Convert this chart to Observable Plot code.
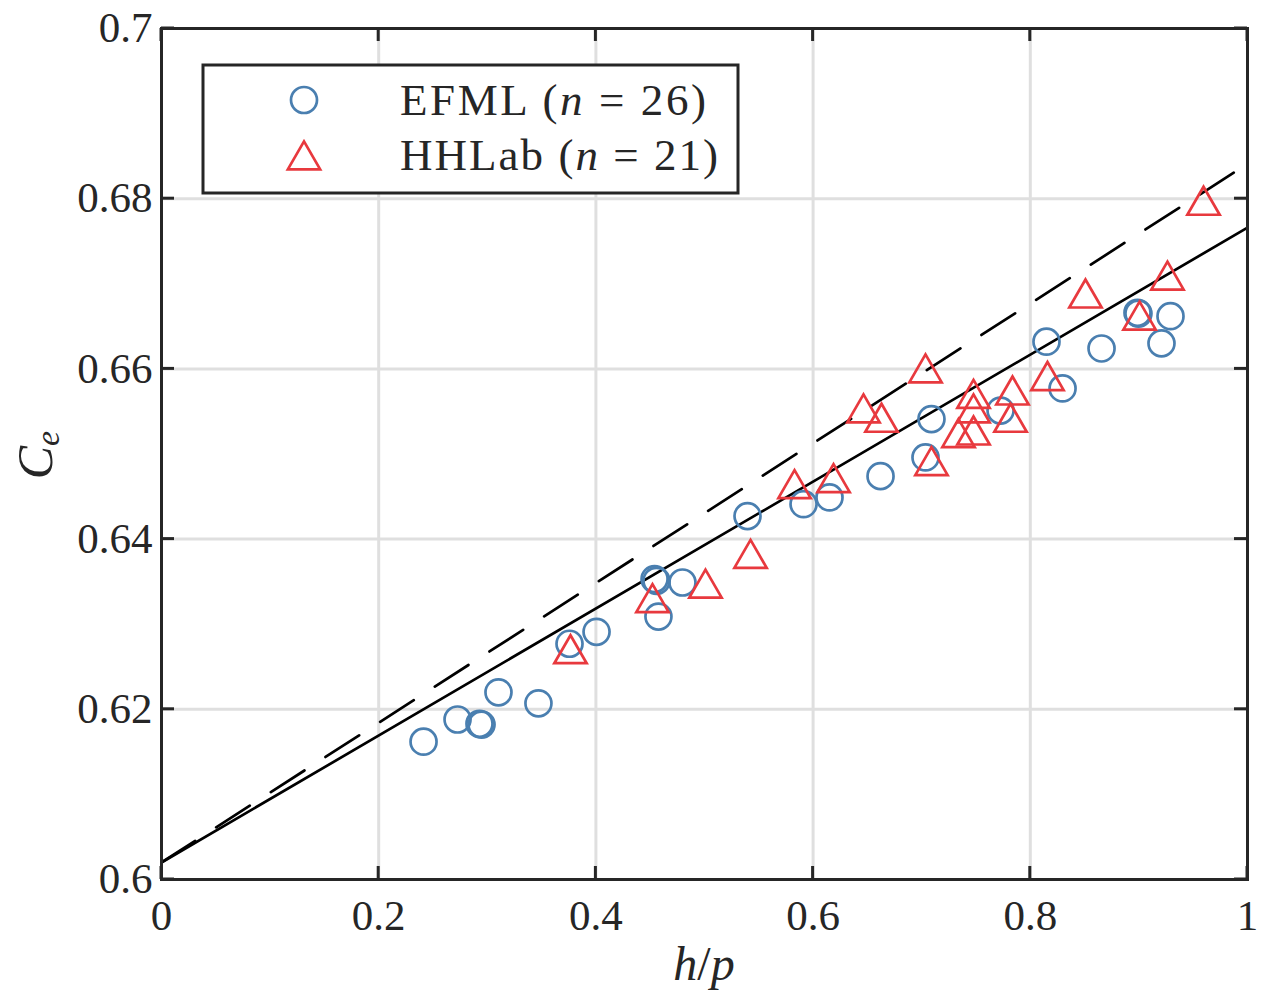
<!DOCTYPE html>
<html>
<head>
<meta charset="utf-8">
<script src="https://cdn.jsdelivr.net/npm/d3@7"></script>
<script src="https://cdn.jsdelivr.net/npm/@observablehq/plot@0.6"></script>
<style>
  html, body { margin: 0; padding: 0; background: white; }
</style>
</head>
<body>
<div id="chart"></div>
<script>
// ---- data ----
const efmlX = [0.2413, 0.2726, 0.2928, 0.2947, 0.3103, 0.3471, 0.3757, 0.4006, 0.4540, 0.4558, 0.4576, 0.4797, 0.5396,
               0.5912, 0.6151, 0.6621, 0.7035, 0.7090, 0.7726, 0.8149, 0.8297, 0.8656, 0.8987, 0.8996, 0.9208, 0.9291];
const efmlY = [0.6162, 0.6188, 0.6183, 0.6182, 0.6220, 0.6207, 0.6277, 0.6291, 0.6353, 0.6351, 0.6309, 0.6349, 0.6427,
               0.6441, 0.6449, 0.6474, 0.6496, 0.6541, 0.6551, 0.6632, 0.6577, 0.6624, 0.6666, 0.6665, 0.6630, 0.6662];
const hhX = [0.3766, 0.4521, 0.5009, 0.5424, 0.5829, 0.6188, 0.6464, 0.6630, 0.7035, 0.7090, 0.7477,
             0.7477, 0.7339, 0.7477, 0.7836, 0.7818, 0.8158, 0.9595, 0.9263, 0.8508, 0.9006];
const hhY = [0.6271, 0.6331, 0.6348, 0.6383, 0.6465, 0.6472, 0.6554, 0.6543, 0.6601, 0.6492, 0.6571,
             0.6554, 0.6525, 0.6528, 0.6575, 0.6543, 0.6592, 0.6798, 0.6710, 0.6689, 0.6663];
const fitX = [0, 1];
const fitSolidY = [0.6020, 0.6766];
const fitDashY = [0.6020, 0.6841];
const xTicks = [0, 0.2, 0.4, 0.6, 0.8, 1];
const yTicks = [0.6, 0.62, 0.64, 0.66, 0.68, 0.7];
const xTickLabels = ["0", "0.2", "0.4", "0.6", "0.8", "1"];
const yTickLabels = ["0.6", "0.62", "0.64", "0.66", "0.68", "0.7"];
const xGrid = [0.2, 0.4, 0.6, 0.8];
const yGrid = [0.62, 0.64, 0.66, 0.68];
const seriesNames = ["EFML", "HHLab"];
const seriesN = [26, 21];

const blue = "#4a7fb0";
const red = "#e8393e";
const ink = "#262626";

const efml = efmlX.map((x, i) => ({x, y: efmlY[i]}));
const hh = hhX.map((x, i) => ({x, y: hhY[i]}));
const solid = fitX.map((x, i) => ({x, y: fitSolidY[i]}));
const dashed = fitX.map((x, i) => ({x, y: fitDashY[i]}));

const rCircle = 13;
const rTri = 12;

const plot = Plot.plot({
  width: 1262,
  height: 998,
  marginLeft: 161,
  marginRight: 15,
  marginTop: 28,
  marginBottom: 119,
  x: {domain: [0, 1]},
  y: {domain: [0.6, 0.7]},
  style: {fontFamily: "'Liberation Serif', serif", fontSize: "43px", color: ink, background: "white"},
  marks: [
    Plot.gridX(xGrid, {stroke: "#dfdfdf", strokeOpacity: 1, strokeWidth: 3}),
    Plot.gridY(yGrid, {stroke: "#dfdfdf", strokeOpacity: 1, strokeWidth: 3}),
    Plot.line(dashed, {x: "x", y: "y", stroke: "black", strokeWidth: 2.7, strokeDasharray: "40,25"}),
    Plot.line(solid, {x: "x", y: "y", stroke: "black", strokeWidth: 2.7}),
    Plot.dot(efml, {x: "x", y: "y", r: rCircle, symbol: "circle", stroke: blue, strokeWidth: 2.7, fill: "none"}),
    Plot.dot(hh, {x: "x", y: "y", r: rTri, symbol: "triangle", stroke: red, strokeWidth: 2.7, fill: "none", dy: 5}),
    Plot.frame({stroke: ink, strokeWidth: 3}),
    Plot.axisX({ticks: xTicks, tickSize: 0, tickPadding: 20, label: null, fill: ink,
                tickFormat: d => xTickLabels[xTicks.indexOf(d)]}),
    Plot.axisY({ticks: yTicks, tickSize: 0, tickPadding: 9, label: null, fill: ink,
                tickFormat: d => yTickLabels[yTicks.indexOf(d)]})
  ]
});

document.getElementById("chart").appendChild(plot);

// ---- inward ticks on all four sides, via Plot scales ----
const sx = plot.scale("x"), sy = plot.scale("y");
const [x0, x1] = sx.range, [yb, yt] = sy.range;
const svg = d3.select(plot);
const tl = 13;
const tg = svg.append("g").attr("stroke", ink).attr("stroke-width", 3);
xTicks.forEach(v => {
  const px = sx.apply(v);
  tg.append("line").attr("x1", px).attr("x2", px).attr("y1", yb).attr("y2", yb - tl);
  tg.append("line").attr("x1", px).attr("x2", px).attr("y1", yt).attr("y2", yt + tl);
});
yTicks.forEach(v => {
  const py = sy.apply(v);
  tg.append("line").attr("x1", x0).attr("x2", x0 + tl).attr("y1", py).attr("y2", py);
  tg.append("line").attr("x1", x1).attr("x2", x1 - tl).attr("y1", py).attr("y2", py);
});

// ---- axis labels ----
const serif = "'Liberation Serif', serif";
const xl = svg.append("text").attr("x", (x0 + x1) / 2).attr("y", 980)
  .attr("text-anchor", "middle").attr("font-family", serif).attr("font-size", 48).attr("fill", ink);
xl.append("tspan").attr("font-style", "italic").text("h");
xl.append("tspan").text("/");
xl.append("tspan").attr("font-style", "italic").text("p");

const yl = svg.append("text").attr("transform", "translate(52,455) rotate(-90)")
  .attr("text-anchor", "middle").attr("font-family", serif).attr("fill", ink);
yl.append("tspan").attr("font-style", "italic").attr("font-size", 50).text("C");
yl.append("tspan").attr("font-style", "italic").attr("font-size", 34).attr("dy", 7).text("e");

// ---- legend ----
const lg = svg.append("g");
lg.append("rect").attr("x", 203).attr("y", 65).attr("width", 535).attr("height", 128)
  .attr("fill", "white").attr("stroke", ink).attr("stroke-width", 3);
const rowsY = [100, 155];
const textLens = [306, 318];
const symbols = [
  {type: d3.symbolCircle, r: rCircle, color: blue, dy: 0},
  {type: d3.symbolTriangle, r: rTri, color: red, dy: 5}
];
seriesNames.forEach((name, i) => {
  const s = symbols[i];
  lg.append("path")
    .attr("d", d3.symbol(s.type, Math.PI * s.r * s.r)())
    .attr("transform", `translate(304,${rowsY[i] + s.dy})`)
    .attr("fill", "none").attr("stroke", s.color).attr("stroke-width", 2.7);
  const t = lg.append("text").attr("x", 400).attr("y", rowsY[i] + 15)
    .attr("text-anchor", "start")
    .attr("textLength", textLens[i]).attr("lengthAdjust", "spacing")
    .attr("font-family", serif).attr("font-size", 45).attr("fill", ink);
  t.append("tspan").text(name + " (");
  t.append("tspan").attr("font-style", "italic").text("n");
  t.append("tspan").text(" = " + seriesN[i] + ")");
});
</script>
</body>
</html>
